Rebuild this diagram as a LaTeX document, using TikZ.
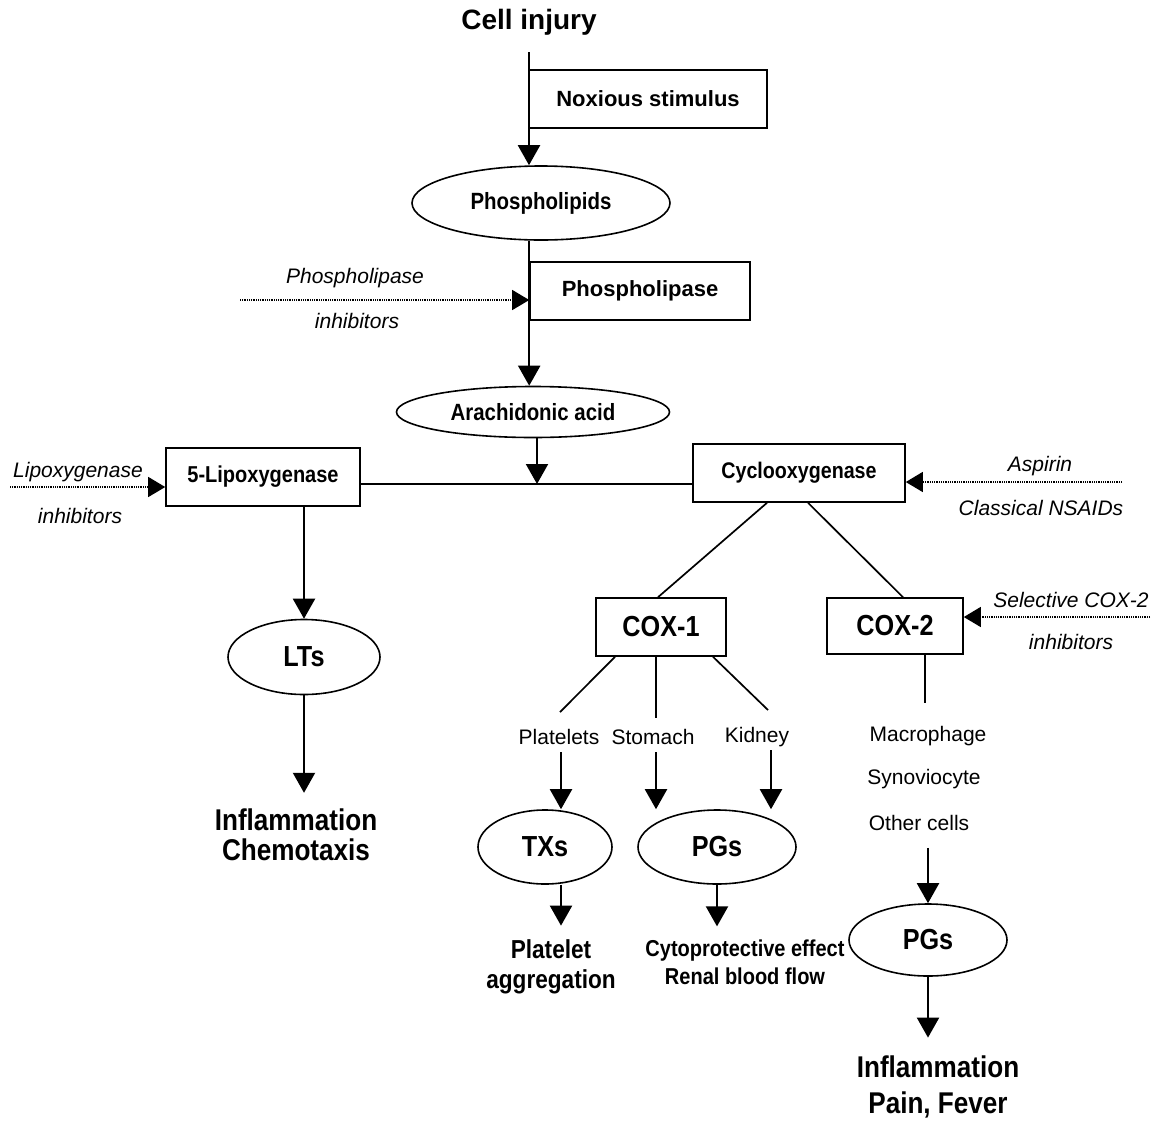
\documentclass[tikz,border=0pt]{standalone}
\usepackage{fontspec}
\setmainfont{Liberation Sans}
\newfontfamily\condf[FakeStretch=0.87]{Liberation Sans}
\usetikzlibrary{arrows.meta,shapes.geometric,calc}
\newcommand{\fsz}[1]{\fontsize{#1}{#1}\selectfont}
\begin{document}
\begin{tikzpicture}[x=1pt,y=-1pt,
  box/.style={draw, line width=1.6pt, rectangle, inner sep=0pt, font=\bfseries\fsz{21}},
  ell/.style={draw, line width=1.6pt, ellipse, inner sep=0pt},
  arr/.style={line width=2.1pt, -{Triangle[length=20pt,width=22pt]}},
  ln/.style={line width=1.7pt},
  dotarr/.style={line width=1.3pt, dash pattern=on 1pt off 0.8pt, -{Triangle[length=17pt,width=20pt]}},
  itl/.style={inner sep=0pt, font=\itshape\fsz{21}},
  pl/.style={inner sep=0pt, font=\fsz{21}},
  big/.style={font=\condf\bfseries\fsz{29}},
  mid/.style={font=\condf\bfseries\fsz{#1}},
  outc/.style={inner sep=0pt, align=center}
]
\fill[white] (0,0) rectangle (1162,1122);
\useasboundingbox (0,0) rectangle (1162,1122);

% nodes
\node[inner sep=0pt, font=\bfseries\fsz{28}] (cell) at (529,22) {Cell injury};
\node[box, minimum width=238pt, minimum height=58pt, font=\bfseries\fsz{22}] (nox) at (648,99) {Noxious stimulus};
\node[ell, minimum width=258pt, minimum height=74pt, mid=23.5] (phl) at (541,203) {Phospholipids};
\node[box, minimum width=220pt, minimum height=58pt, font=\bfseries\fsz{22}] (pla) at (640,291) {Phospholipase};
\node[ell, minimum width=273pt, minimum height=51pt, mid=23.5] (ara) at (533,412) {Arachidonic acid};
\node[box, minimum width=194pt, minimum height=58pt, mid=23] (lox) at (263,477) {5-Lipoxygenase};
\node[box, minimum width=212pt, minimum height=58pt, mid=22.6] (cyc) at (799,473) {Cyclooxygenase};
\node[box, big, minimum width=130pt, minimum height=58pt] (c1) at (661,627) {COX-1};
\node[box, big, minimum width=136pt, minimum height=56pt] (c2) at (895,626) {COX-2};
\node[ell, big, minimum width=152pt, minimum height=75pt] (lts) at (304,657) {LTs};
\node[ell, big, minimum width=134pt, minimum height=74pt] (txs) at (545,847) {TXs};
\node[ell, big, minimum width=158pt, minimum height=74pt] (pg1) at (717,847) {PGs};
\node[ell, big, minimum width=158pt, minimum height=72pt] (pg2) at (928,940) {PGs};

% inhibitor labels
\node[itl] (plin1) at (355,278) {Phospholipase};
\node[itl] (plin2) at (357,321) {inhibitors};
\node[itl] (lin1) at (78,472) {Lipoxygenase};
\node[itl] (lin2) at (80,516) {inhibitors};
\node[itl] (as1) at (1040,466) {Aspirin};
\node[itl] (as2) at (1041,508) {Classical NSAIDs};
\node[itl] (se1) at (1071,600) {Selective COX-2};
\node[itl] (se2) at (1071,642) {inhibitors};

% tissue labels
\node[pl] (plat) at (559,737) {Platelets};
\node[pl] (stom) at (653,737) {Stomach};
\node[pl] (kid) at (757,737) {Kidney};
\node[pl] (mac) at (928,736) {Macrophage};
\node[pl] (syn) at (924,779) {Synoviocyte};
\node[pl] (oth) at (919,823) {Other cells};

% outcomes
\node[outc, font=\condf\bfseries\fontsize{30}{30}\selectfont] (out1) at (296,835) {Inflammation\\Chemotaxis};
\node[outc, font=\condf\bfseries\fontsize{26}{30}\selectfont] (out2) at (551,967) {Platelet\\aggregation};
\node[outc, font=\condf\bfseries\fontsize{23}{28}\selectfont] (out3) at (745,962) {Cytoprotective effect\\Renal blood flow};
\node[outc, font=\condf\bfseries\fontsize{30}{36}\selectfont] (out4) at (938,1087) {Inflammation\\Pain, Fever};

% main chain
\draw[arr, shorten <=17pt] (cell.south) -- (cell.south |- phl.north);
\draw[arr] (phl.south -| pla.west) -- (pla.west |- ara.north);
\coordinate (j) at (537,484);
\draw[arr] (ara.south -| j) -- (j);
\draw[ln] (lox.east |- j) -- (cyc.west |- j);

% inhibitors
\coordinate (phA) at (240,300);
\draw[dotarr] (phA) -- (phA -| pla.west);
\coordinate (lA) at (10,487);
\draw[dotarr] (lA) -- (lA -| lox.west);
\coordinate (aA) at (1122,482);
\draw[dotarr] (aA) -- (aA -| cyc.east);
\coordinate (sA) at (1150,617);
\draw[dotarr] (sA) -- (sA -| c2.east);

% lipoxygenase branch
\draw[arr] (lts.north |- lox.south) -- (lts.north);
\coordinate (o1tip) at ($(out1.north)+(0,-16)$);
\draw[arr] (lts.south) -- (lts.south |- o1tip);

% cyclooxygenase branches
\draw[ln] ($(cyc.south)+(-32,0)$) -- ($(c1.north)+(-3,0)$);
\draw[ln] ($(cyc.south)+(9,0)$) -- ($(c2.north)+(8,0)$);

% COX-1 branches
\draw[ln] ($(c1.south)+(-46,0)$) -- ($(plat.north)+(1,-17)$);
\draw[ln] ($(c1.south)+(-5,0)$) -- ($(stom.north)+(3,-11)$);
\draw[ln] ($(c1.south)+(52,0)$) -- ($(kid.north)+(11,-17)$);

\coordinate (pa) at ($(plat.north)+(2,23)$);
\draw[arr] (pa) -- (pa |- txs.north);
\coordinate (sa) at ($(stom.north)+(3,23)$);
\draw[arr] (sa) -- (sa |- pg1.north);
\coordinate (ka) at ($(kid.north)+(14,23)$);
\draw[arr] (ka) -- (ka |- pg1.north);

\coordinate (o2tip) at ($(out2.north)+(0,-14)$);
\draw[arr] (txs.south -| pa) -- (pa |- o2tip);
\coordinate (o3tip) at ($(out3.north)+(0,-13)$);
\draw[arr] (pg1.south) -- (pg1.south |- o3tip);

% COX-2 branch
\draw[ln] ($(c2.south)+(30,0)$) -- ($(mac.north)+(-3,-23)$);
\coordinate (oa) at ($(oth.south)+(9,17)$);
\draw[arr] (oa) -- (oa |- pg2.north);
\coordinate (o4tip) at ($(out4.north)+(0,-18)$);
\draw[arr] (pg2.south) -- (pg2.south |- o4tip);
\end{tikzpicture}
\end{document}
